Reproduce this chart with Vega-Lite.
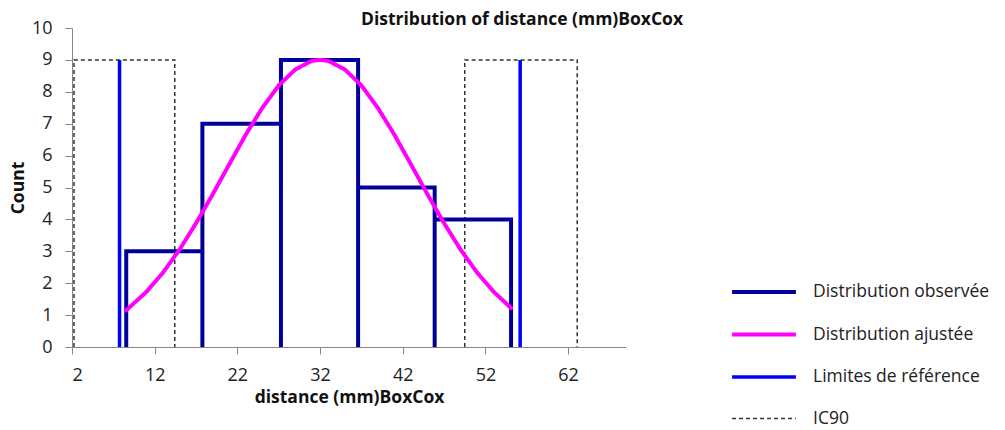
{
  "$schema": "https://vega.github.io/schema/vega-lite/v6.json",
  "autosize": "none",
  "width": 554,
  "height": 319,
  "padding": {"left": 72, "top": 28, "right": 379, "bottom": 83},
  "background": "white",
  "config": {
    "font": "Open Sans",
    "view": {"stroke": null},
    "axis": {"grid": false, "domainColor": "#868686", "tickColor": "#868686", "labelColor": "#222222", "labelFont": "Open Sans", "labelFontSize": 18, "titleFont": "Open Sans", "titleFontSize": 17.5, "titleFontWeight": "bold", "titleColor": "#111111"}
  },
  "title": {"text": "Distribution of distance (mm)BoxCox", "anchor": "middle", "dx": 173, "dy": 24, "offset": 1, "baseline": "alphabetic", "font": "Open Sans", "fontSize": 17.5, "fontWeight": "bold", "color": "#111111"},
  "data": {"values": [
    {"series": "IC90", "grp": "ic1", "o": 0, "x": 2.24, "y": 0},
    {"series": "IC90", "grp": "ic1", "o": 1, "x": 2.24, "y": 9},
    {"series": "IC90", "grp": "ic1", "o": 2, "x": 14.43, "y": 9},
    {"series": "IC90", "grp": "ic1", "o": 3, "x": 14.43, "y": 0},
    {"series": "IC90", "grp": "ic2", "o": 0, "x": 49.5, "y": 0},
    {"series": "IC90", "grp": "ic2", "o": 1, "x": 49.5, "y": 9},
    {"series": "IC90", "grp": "ic2", "o": 2, "x": 63.1, "y": 9},
    {"series": "IC90", "grp": "ic2", "o": 3, "x": 63.1, "y": 0},
    {"series": "Distribution observée", "grp": "obs", "o": 0, "x": 8.56, "y": 0},
    {"series": "Distribution observée", "grp": "obs", "o": 1, "x": 8.56, "y": 3},
    {"series": "Distribution observée", "grp": "obs", "o": 2, "x": 17.77, "y": 3},
    {"series": "Distribution observée", "grp": "obs", "o": 3, "x": 17.77, "y": 0},
    {"series": "Distribution observée", "grp": "obs", "o": 4, "x": 17.77, "y": 7},
    {"series": "Distribution observée", "grp": "obs", "o": 5, "x": 27.27, "y": 7},
    {"series": "Distribution observée", "grp": "obs", "o": 6, "x": 27.27, "y": 0},
    {"series": "Distribution observée", "grp": "obs", "o": 7, "x": 27.27, "y": 9},
    {"series": "Distribution observée", "grp": "obs", "o": 8, "x": 36.6, "y": 9},
    {"series": "Distribution observée", "grp": "obs", "o": 9, "x": 36.6, "y": 0},
    {"series": "Distribution observée", "grp": "obs", "o": 10, "x": 36.6, "y": 5},
    {"series": "Distribution observée", "grp": "obs", "o": 11, "x": 45.86, "y": 5},
    {"series": "Distribution observée", "grp": "obs", "o": 12, "x": 45.86, "y": 0},
    {"series": "Distribution observée", "grp": "obs", "o": 13, "x": 45.86, "y": 4},
    {"series": "Distribution observée", "grp": "obs", "o": 14, "x": 55.1, "y": 4},
    {"series": "Distribution observée", "grp": "obs", "o": 15, "x": 55.1, "y": 0},
    {"series": "Limites de référence", "grp": "ref1", "o": 0, "x": 7.75, "y": 0},
    {"series": "Limites de référence", "grp": "ref1", "o": 1, "x": 7.75, "y": 9},
    {"series": "Limites de référence", "grp": "ref2", "o": 0, "x": 56.2, "y": 0},
    {"series": "Limites de référence", "grp": "ref2", "o": 1, "x": 56.2, "y": 9},
    {"series": "Distribution ajustée", "grp": "fit", "o": 0, "x": 8.56, "y": 1.15},
    {"series": "Distribution ajustée", "grp": "fit", "o": 1, "x": 11, "y": 1.73},
    {"series": "Distribution ajustée", "grp": "fit", "o": 2, "x": 13, "y": 2.33},
    {"series": "Distribution ajustée", "grp": "fit", "o": 3, "x": 15, "y": 3.05},
    {"series": "Distribution ajustée", "grp": "fit", "o": 4, "x": 17, "y": 3.88},
    {"series": "Distribution ajustée", "grp": "fit", "o": 5, "x": 19, "y": 4.78},
    {"series": "Distribution ajustée", "grp": "fit", "o": 6, "x": 21, "y": 5.72},
    {"series": "Distribution ajustée", "grp": "fit", "o": 7, "x": 23, "y": 6.65},
    {"series": "Distribution ajustée", "grp": "fit", "o": 8, "x": 25, "y": 7.49},
    {"series": "Distribution ajustée", "grp": "fit", "o": 9, "x": 27, "y": 8.2},
    {"series": "Distribution ajustée", "grp": "fit", "o": 10, "x": 29, "y": 8.7},
    {"series": "Distribution ajustée", "grp": "fit", "o": 11, "x": 31, "y": 8.97},
    {"series": "Distribution ajustée", "grp": "fit", "o": 12, "x": 32, "y": 9},
    {"series": "Distribution ajustée", "grp": "fit", "o": 13, "x": 33, "y": 8.97},
    {"series": "Distribution ajustée", "grp": "fit", "o": 14, "x": 35, "y": 8.7},
    {"series": "Distribution ajustée", "grp": "fit", "o": 15, "x": 37, "y": 8.2},
    {"series": "Distribution ajustée", "grp": "fit", "o": 16, "x": 39, "y": 7.49},
    {"series": "Distribution ajustée", "grp": "fit", "o": 17, "x": 41, "y": 6.65},
    {"series": "Distribution ajustée", "grp": "fit", "o": 18, "x": 43, "y": 5.72},
    {"series": "Distribution ajustée", "grp": "fit", "o": 19, "x": 45, "y": 4.78},
    {"series": "Distribution ajustée", "grp": "fit", "o": 20, "x": 47, "y": 3.88},
    {"series": "Distribution ajustée", "grp": "fit", "o": 21, "x": 49, "y": 3.05},
    {"series": "Distribution ajustée", "grp": "fit", "o": 22, "x": 51, "y": 2.33},
    {"series": "Distribution ajustée", "grp": "fit", "o": 23, "x": 53, "y": 1.73},
    {"series": "Distribution ajustée", "grp": "fit", "o": 24, "x": 55.1, "y": 1.22}
  ]},
  "encoding": {
    "x": {"field": "x", "type": "quantitative", "scale": {"domain": [2, 69], "nice": false, "zero": false}, "axis": {"values": [2, 12, 22, 32, 42, 52, 62], "title": "distance (mm)BoxCox", "tickSize": 7, "labelPadding": 12, "titlePadding": 4}},
    "y": {"field": "y", "type": "quantitative", "scale": {"domain": [0, 10], "nice": false}, "axis": {"values": [0, 1, 2, 3, 4, 5, 6, 7, 8, 9, 10], "title": "Count", "tickSize": 7, "labelPadding": 13, "titlePadding": 4}},
    "order": {"field": "o", "type": "quantitative"},
    "detail": {"field": "grp", "type": "nominal"},
    "color": {"field": "series", "type": "nominal", "title": null,
      "scale": {"domain": ["Distribution observée", "Distribution ajustée", "Limites de référence", "IC90"], "range": ["#000099", "#FF00FF", "#0000FF", "#333333"]},
      "legend": {"orient": "none", "legendX": 669, "legendY": 241, "symbolType": "M-1.52,0L1.52,0", "symbolSize": 1764, "labelFontSize": 17.5, "labelFont": "Open Sans", "labelColor": "#222222", "labelOffset": 26, "rowPadding": 10.5, "labelLimit": 300, "padding": 0}},
    "strokeDash": {"field": "series", "type": "nominal", "title": null,
      "scale": {"domain": ["Distribution observée", "Distribution ajustée", "Limites de référence", "IC90"], "range": [[1, 0], [1, 0], [1, 0], [4, 3]]}},
    "strokeWidth": {"field": "series", "type": "nominal", "title": null,
      "scale": {"type": "ordinal", "domain": ["Distribution observée", "Distribution ajustée", "Limites de référence", "IC90"], "range": [4, 4, 3.5, 1.5]}}
  },
  "layer": [
    {"transform": [{"filter": "datum.series === 'IC90'"}], "mark": {"type": "line", "strokeCap": "butt"}},
    {"transform": [{"filter": "datum.series === 'Distribution observée'"}], "mark": {"type": "line", "strokeCap": "butt", "strokeJoin": "miter"}},
    {"transform": [{"filter": "datum.series === 'Limites de référence'"}], "mark": {"type": "line", "strokeCap": "butt"}},
    {"transform": [{"filter": "datum.series === 'Distribution ajustée'"}], "mark": {"type": "line", "strokeCap": "round"}}
  ]
}
